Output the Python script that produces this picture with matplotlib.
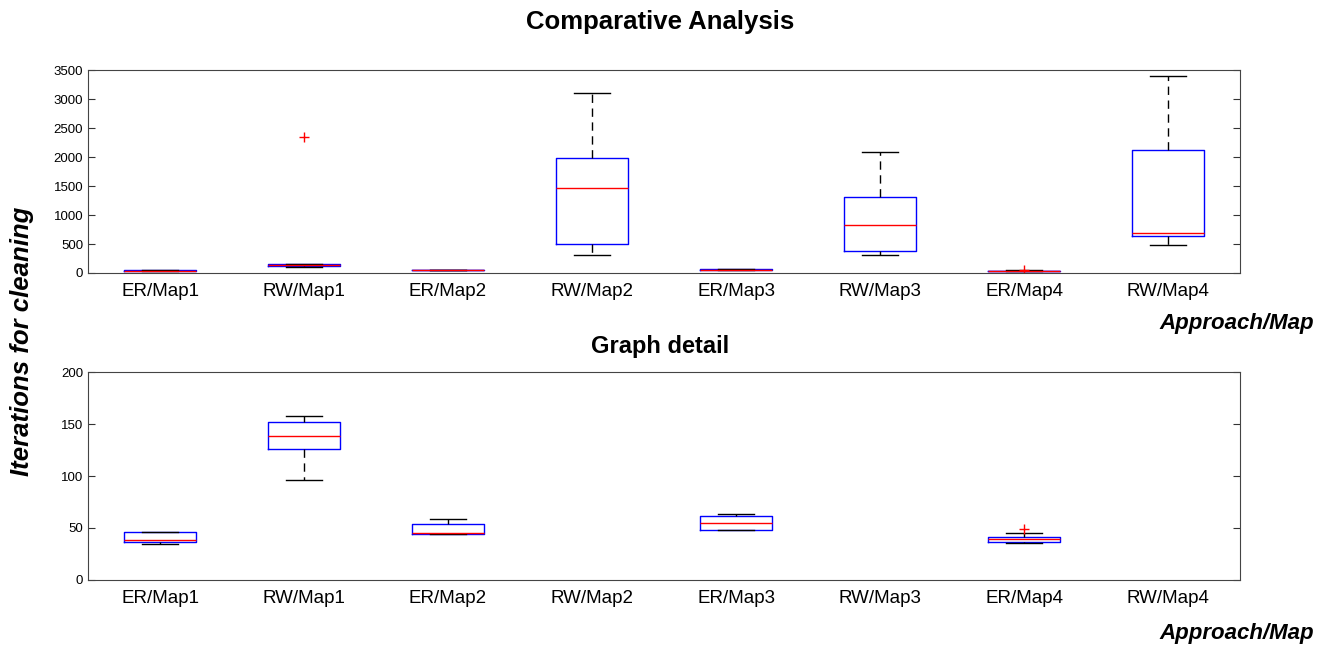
import matplotlib.pyplot as plt

plt.rcParams['font.family'] = ['Liberation Sans', 'DejaVu Sans']

labels = ['ER/Map1', 'RW/Map1', 'ER/Map2', 'RW/Map2', 'ER/Map3', 'RW/Map3', 'ER/Map4', 'RW/Map4']

# box statistics
med = [38.5, 138, 45.5, 1470, 55, 820, 39.5, 690]
q1 = [37, 126, 44.5, 500, 48.5, 385, 37, 640]
q3 = [46, 152, 54, 1990, 61.5, 1310, 41.5, 2120]
whislo = [34.5, 96, 44, 310, 48.5, 315, 36, 480]
whishi = [46, 158, 59, 3100, 63.5, 2090, 45, 3400]
fliers = [[], [2350], [], [], [], [], [49], []]

# the detail plot only shows the ER runs and RW/Map1
detail_idx = [0, 1, 2, 4, 6]


def make_stats(idx):
    out = []
    for i in idx:
        out.append(dict(med=med[i], q1=q1[i], q3=q3[i], whislo=whislo[i],
                        whishi=whishi[i], fliers=fliers[i], label=labels[i]))
    return out


def draw(ax, idx, ymax, yticks):
    stats = make_stats(idx)
    pos = [i + 1 for i in idx]
    ax.bxp(stats, positions=pos, widths=0.5, capwidths=0.25,
           boxprops=dict(color='blue', lw=1),
           medianprops=dict(color='red', lw=1),
           whiskerprops=dict(color='black', lw=1, ls=(0, (6, 4))),
           capprops=dict(color='black', lw=1),
           flierprops=dict(marker='+', markeredgecolor='red', markersize=7, lw=0))
    ax.set_xlim(0.5, 8.5)
    ax.set_ylim(0, ymax)
    ax.set_yticks(yticks)
    ax.set_xticks(range(1, 9))
    ax.set_xticklabels(labels, fontsize=13.5)
    ax.tick_params(axis='x', length=0, pad=7)
    ax.tick_params(axis='y', direction='in', right=True, length=5, labelsize=9.5,
                   color='#333333')
    for s in ax.spines.values():
        s.set_color('#444444')


fig = plt.figure(figsize=(13.2, 6.46), dpi=100)
ax1 = fig.add_axes([0.0667, 0.5774, 0.8727, 0.3142])
ax2 = fig.add_axes([0.0667, 0.1022, 0.8727, 0.3219])

draw(ax1, range(8), 3500, range(0, 3501, 500))
draw(ax2, detail_idx, 200, range(0, 201, 50))

fig.text(0.5, 1 - 22 / 646, 'Comparative Analysis', ha='center', va='center',
         fontsize=18.5, fontweight='bold')
fig.text(0.5, 1 - 346 / 646, 'Graph detail', ha='center', va='center',
         fontsize=17, fontweight='bold')
fig.text(1314 / 1320, 1 - 323 / 646, 'Approach/Map', ha='right', va='center',
         fontsize=16, fontweight='bold', style='italic')
fig.text(1314 / 1320, 1 - 633 / 646, 'Approach/Map', ha='right', va='center',
         fontsize=16, fontweight='bold', style='italic')
fig.text(22 / 1320, 1 - 341 / 646, 'Iterations for cleaning', ha='center', va='center',
         rotation=90, fontsize=18.5, fontweight='bold', style='italic')

fig.savefig('out.png', dpi=100)
